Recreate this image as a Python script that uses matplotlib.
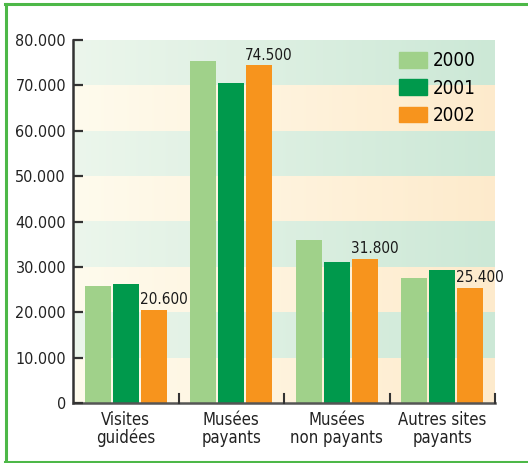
import matplotlib.pyplot as plt
import matplotlib.font_manager as fm
import numpy as np
from matplotlib.lines import Line2D
from matplotlib.patches import Patch

categories = ["Visites\nguidées", "Musées\npayants", "Musées\nnon payants", "Autres sites\npayants"]
years = ["2000", "2001", "2002"]
v2000 = [25800, 75400, 35900, 27600]
v2001 = [26200, 70500, 31100, 29300]
v2002 = [20600, 74500, 31800, 25400]
labels2002 = ["20.600", "74.500", "31.800", "25.400"]
yticks = [0, 10000, 20000, 30000, 40000, 50000, 60000, 70000, 80000]
ytick_labels = ["0", "10.000", "20.000", "30.000", "40.000", "50.000", "60.000", "70.000", "80.000"]

colors = ["#a0d18a", "#00994c", "#f7941d"]

names = {f.name for f in fm.fontManager.ttflist}
if "Liberation Sans Narrow" in names:
    font = {"family": "Liberation Sans Narrow"}
else:
    font = {"family": "DejaVu Sans", "stretch": "condensed"}

fig = plt.figure(figsize=(5.28, 4.63), dpi=100)
W, H = 528, 463
ax = fig.add_axes([73 / W, 1 - 403 / H, (495 - 73) / W, (403 - 40) / H])

# gradient bands
n = 200
green = np.linspace([0.925, 0.965, 0.925], [0.80, 0.91, 0.84], n)
cream = np.linspace([1.0, 0.985, 0.93], [0.995, 0.92, 0.80], n)
for i in range(8):
    c = cream if i % 2 == 0 else green
    ax.imshow(c[np.newaxis, :, :], extent=[0, 4, i * 10000, (i + 1) * 10000],
              aspect="auto", zorder=0, interpolation="bilinear")
ax.set_xlim(0, 4)
ax.set_ylim(0, 80000)
ax.set_axisbelow(False)

x = np.arange(len(categories)) + 0.5
w = 0.246
step = 0.265
for k, vals in enumerate([v2000, v2001, v2002]):
    ax.bar(x + (k - 1) * step, vals, width=w, color=colors[k], zorder=2)

for xi, v, lab in zip(x, v2002, labels2002):
    ax.text(xi + step - w / 2 - 0.01, v + 500, lab, ha="left", va="bottom",
            fontsize=11, color="#1a1a1a", **font)

ax.set_yticks(yticks)
ax.set_yticklabels(ytick_labels, fontsize=11.5, color="#222222", **font)
ax.tick_params(axis="y", direction="in", length=7.5, width=1.6, color="#333333", pad=5)
ax.set_xticks(x)
ax.set_xticklabels(categories, fontsize=12, color="#222222", linespacing=0.95, **font)
ax.tick_params(axis="x", length=0, pad=6)
for xb in [1, 2, 3, 4]:
    ax.plot([xb, xb], [0, 2000], color="#333333", lw=1.5, zorder=3, clip_on=False)

for s in ["top", "right"]:
    ax.spines[s].set_visible(False)
ax.spines["left"].set_color("#333333")
ax.spines["left"].set_linewidth(1.8)
ax.spines["bottom"].set_color("#555555")
ax.spines["bottom"].set_linewidth(1.8)

handles = [Patch(color=c) for c in colors]
ax.legend(handles, years, loc="upper right", bbox_to_anchor=(0.985, 1.005),
          frameon=False, handlelength=1.5, handleheight=0.9, labelspacing=0.45,
          handletextpad=0.3, borderaxespad=0.3, prop=dict(size=13.5, **font))

# green frame
fc = "#4db848"
fig.add_artist(Line2D([5.5 / W, 5.5 / W], [1 - 4 / H, 1 - 462 / H], color=fc, lw=2.2))
fig.add_artist(Line2D([4.5 / W, 1.0], [1 - 4 / H, 1 - 4 / H], color=fc, lw=2.2))
fig.add_artist(Line2D([4.5 / W, 1.0], [1 - 462 / H, 1 - 462 / H], color=fc, lw=2.2))

fig.savefig("out.png", dpi=100)
